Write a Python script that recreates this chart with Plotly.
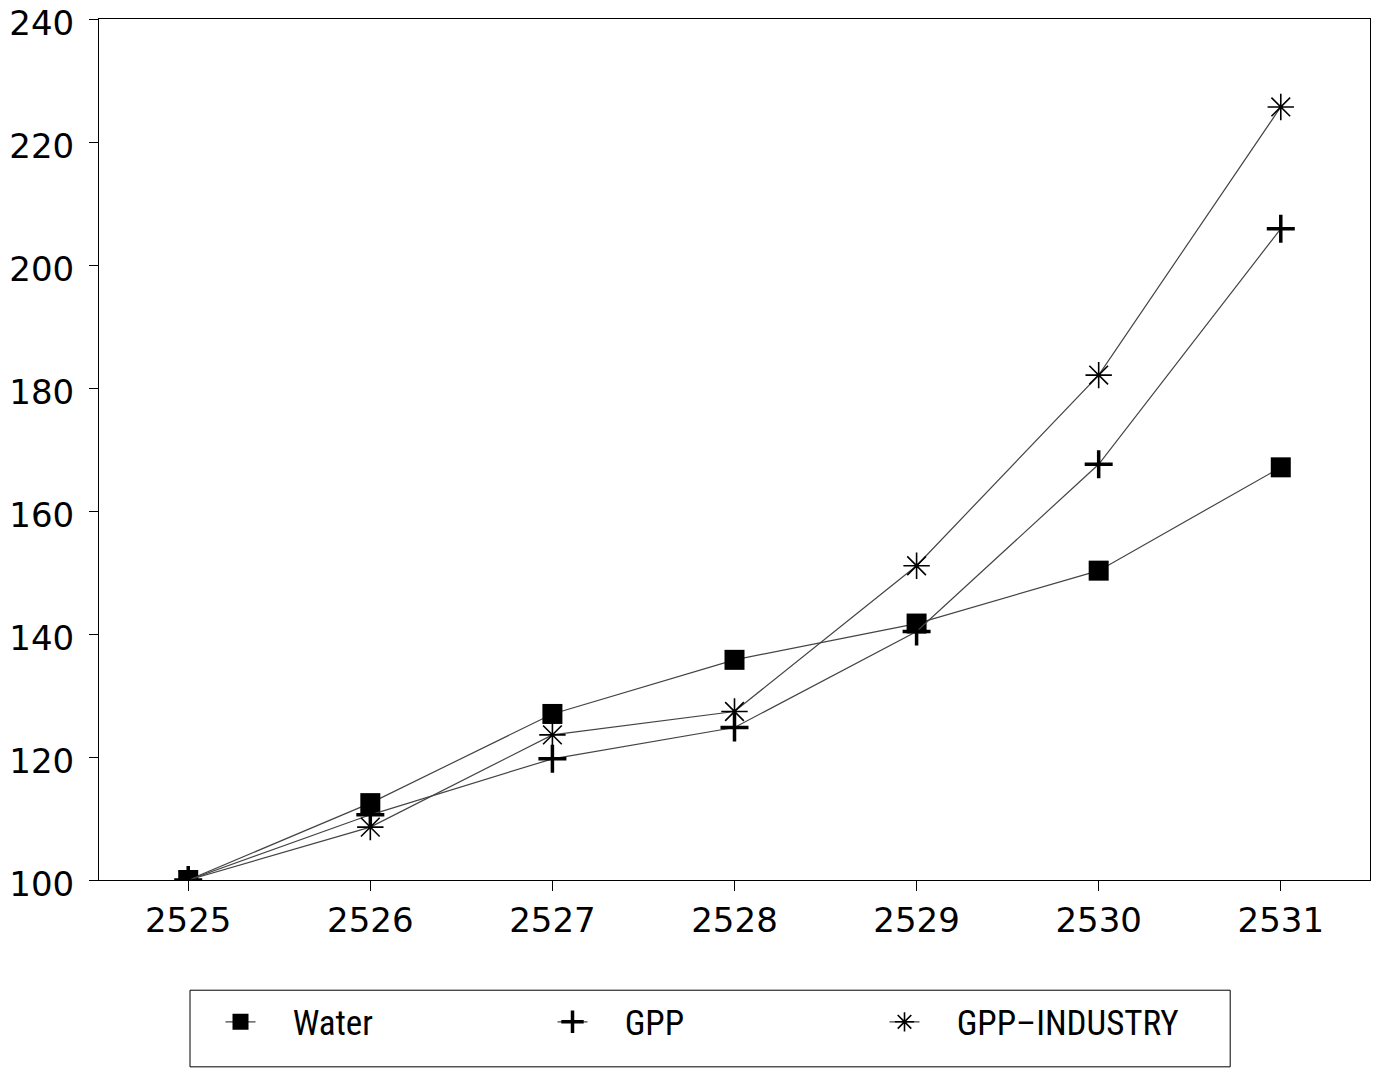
import plotly.graph_objects as go

years = [2525, 2526, 2527, 2528, 2529, 2530, 2531]
water = [100, 112.5, 127.0, 135.8, 141.7, 150.3, 167.1]
gpp = [100, 110.6, 119.7, 124.8, 140.4, 167.6, 205.9]
gpp_industry = [100, 108.6, 123.6, 127.4, 151.1, 182.1, 225.7]
y_ticks = [100, 120, 140, 160, 180, 200, 220, 240]
series_names = ["Water", "GPP", "GPP\u2013INDUSTRY"]

FONT = "DejaVu Sans"
LINE = "#444444"
PAD = "\u00a0\u00a0\u00a0\u00a0"

fig = go.Figure()
fig.add_trace(go.Scatter(
    x=years, y=water, name=PAD + series_names[0], mode="lines+markers",
    line=dict(color=LINE, width=1.2),
    marker=dict(symbol="square", size=20, color="black"),
))
fig.add_trace(go.Scatter(
    x=years, y=gpp, name=PAD + series_names[1], mode="lines+markers",
    line=dict(color=LINE, width=1.2),
    marker=dict(symbol="cross-thin", size=20, color="black",
                line=dict(color="black", width=3.5)),
))
fig.add_trace(go.Scatter(
    x=years, y=gpp_industry, name=PAD + series_names[2], mode="lines+markers",
    line=dict(color=LINE, width=1.2),
    marker=dict(symbol="asterisk-open", size=22, color="black",
                line=dict(color="black", width=1.6)),
))

fig.update_layout(
    width=1382, height=1068,
    margin=dict(l=99, r=12, t=19, b=188, autoexpand=False),
    paper_bgcolor="white", plot_bgcolor="white",
    font=dict(family=FONT, color="black"),
    showlegend=True,
    legend=dict(
        orientation="h", x=0.0956, y=-0.165, xanchor="left", yanchor="middle",
        entrywidth=287, entrywidthmode="pixels",
        font=dict(family="Liberation Sans Narrow, Roboto Condensed, Liberation Sans", size=35, color="black"),
        bgcolor="rgba(0,0,0,0)", borderwidth=0,
    ),
    shapes=[dict(
        type="rect", xref="paper", yref="paper",
        x0=0.0716, x1=0.89, y0=-0.217, y1=-0.128,
        line=dict(color="black", width=1), fillcolor="rgba(0,0,0,0)",
    )],
)

fig.update_xaxes(
    range=[2524.51, 2531.49], tickmode="array", tickvals=years,
    ticktext=[str(y) for y in years], automargin=False,
    showgrid=False, zeroline=False,
    showline=True, linecolor="black", linewidth=1, mirror=True,
    ticks="outside", ticklen=10, tickcolor="black", tickwidth=1,
    ticklabeloverflow="allow",
    tickfont=dict(family=FONT, size=34, color="black"),
)
fig.update_yaxes(
    range=[100, 240], tickmode="array", tickvals=y_ticks,
    ticktext=[str(v) for v in y_ticks], automargin=False,
    showgrid=False, zeroline=False,
    showline=True, linecolor="black", linewidth=1, mirror=True,
    ticks="outside", ticklen=9, tickcolor="black", tickwidth=1,
    ticklabelstandoff=8, ticklabeloverflow="allow", ticklabelshift=4,
    tickfont=dict(family=FONT, size=34, color="black"),
)

fig.write_html("out.html", config={"displayModeBar": False},
               post_script="document.body.style.margin='0';")
